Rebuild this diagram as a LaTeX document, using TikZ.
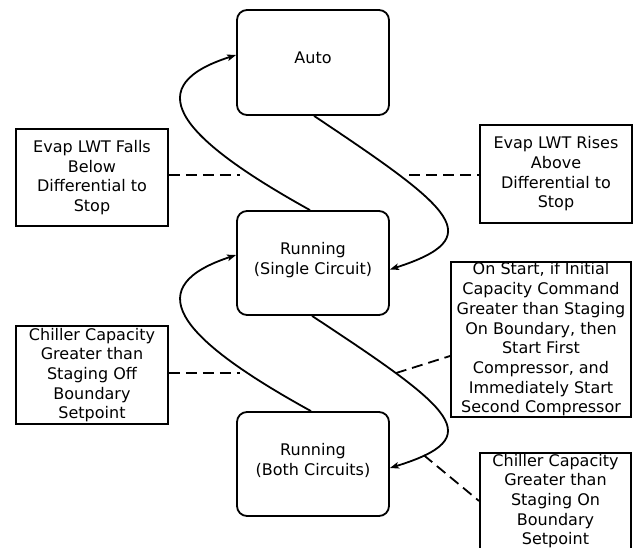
\documentclass[tikz,border=0pt]{standalone}
\usepackage{fontspec}
\setmainfont{DejaVu Sans}
\usetikzlibrary{arrows.meta}
\begin{document}
\begin{tikzpicture}[x=1pt,y=-1pt,
  txt/.style={font=\fontsize{16}{19.7}\selectfont, align=center, inner sep=0pt},
  state/.style={txt, draw, line width=1.8pt, rounded corners=10pt, minimum width=152pt, minimum height=105pt, text depth=9pt},
  note/.style={txt, draw, line width=1.8pt},
  trans/.style={line width=1.8pt, -{Stealth[length=9pt,width=6.5pt,inset=2pt]}},
  dashline/.style={line width=1.8pt, dash pattern=on 11pt off 6pt}]
\useasboundingbox (0,0) rectangle (635,548);
\clip (0,0) rectangle (635,548);

% states
\node[state] (auto) at (313,62.5) {Auto};
\node[state, minimum height=104pt] (single) at (313,263) {Running\\(Single Circuit)};
\node[state, minimum height=104pt] (both) at (313,464) {Running\\(Both Circuits)};

% notes
\node[note, minimum width=152pt, minimum height=97pt] (falls) at (92,177.5) {Evap LWT Falls\\Below\\Differential to\\Stop};
\node[note, minimum width=152pt, minimum height=98pt] (rises) at (556,174) {Evap LWT Rises\\Above\\Differential to\\Stop};
\node[note, minimum width=152pt, minimum height=98pt] (offb) at (92,375) {Chiller Capacity\\Greater than\\Staging Off\\Boundary\\Setpoint};
\node[note, minimum width=180pt, minimum height=155pt] (onstart) at (541,339.5) {On Start, if Initial\\Capacity Command\\Greater than Staging\\On Boundary, then\\Start First\\Compressor, and\\Immediately Start\\Second Compressor};
\node[note, minimum width=151pt, minimum height=96pt] (onb) at (555.5,501) {Chiller Capacity\\Greater than\\Staging On\\Boundary\\Setpoint};

% transitions
\draw[trans] ([xshift=-3pt]single.north) .. controls (171,133) and (142,85) .. ([yshift=7.5pt]auto.west);
\draw[trans] ([xshift=1pt]auto.south) .. controls (455,210) and (489,237.5) .. ([yshift=-6.5pt]single.east);
\draw[trans] ([xshift=-2pt]both.north) .. controls (171,334) and (142,286) .. ([yshift=8pt]single.west);
\draw[trans] ([xshift=-1pt]single.south) .. controls (455,410) and (489,437.5) .. ([yshift=-4pt]both.east)
  coordinate[pos=0.24] (dd1) coordinate[pos=0.86] (dd2);

% dashed annotation links
\coordinate (dl1) at (240,175);
\draw[dashline] (falls.east |- dl1) -- (dl1);
\coordinate (dr1) at (409,175);
\draw[dashline] (dr1) -- (rises.west |- dr1);
\coordinate (dl2) at (240,373);
\draw[dashline] (offb.east |- dl2) -- (dl2);
\draw[dashline] (dd1) -- ([yshift=-16.5pt]onstart.west);
\draw[dashline] (dd2) -- (onb.west);
\end{tikzpicture}
\end{document}
